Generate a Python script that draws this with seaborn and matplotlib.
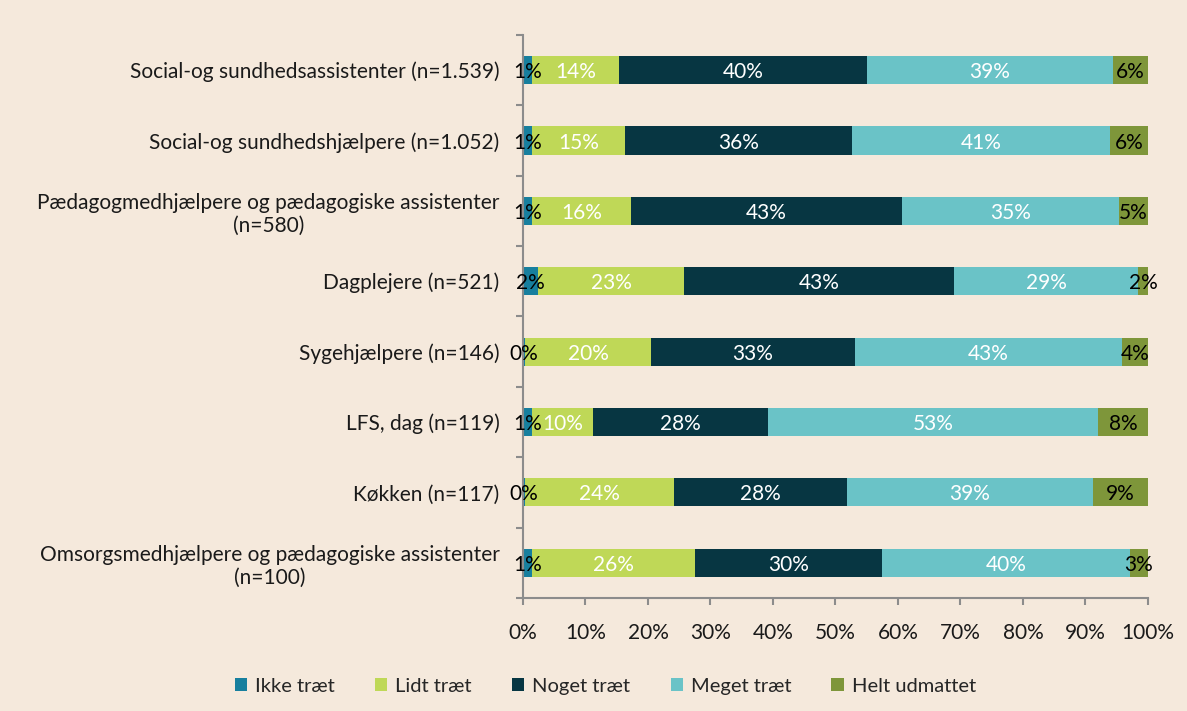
import matplotlib
matplotlib.use("Agg")
import matplotlib.pyplot as plt
import seaborn as sns
import numpy as np
import pandas as pd
from matplotlib.patches import Patch

categories = [
    "Social-og sundhedsassistenter (n=1.539)",
    "Social-og sundhedshjælpere (n=1.052)",
    "Pædagogmedhjælpere og pædagogiske assistenter\n(n=580)",
    "Dagplejere (n=521)",
    "Sygehjælpere (n=146)",
    "LFS, dag (n=119)",
    "Køkken (n=117)",
    "Omsorgsmedhjælpere og pædagogiske assistenter\n(n=100)",
]
series_names = ["Ikke træt", "Lidt træt", "Noget træt", "Meget træt", "Helt udmattet"]
ikke   = [1.4, 1.4, 1.4, 2.4, 0.3, 1.4, 0.3, 1.4]
lidt   = [14.0, 14.9, 15.9, 23.4, 20.2, 9.8, 23.9, 26.1]
noget  = [39.6, 36.3, 43.3, 43.2, 32.6, 28.0, 27.6, 29.9]
meget  = [39.4, 41.4, 34.7, 29.4, 42.7, 52.8, 39.4, 39.7]
helt   = [5.6, 6.0, 4.7, 1.6, 4.2, 8.0, 8.8, 2.9]
xticks = [0, 10, 20, 30, 40, 50, 60, 70, 80, 90, 100]

colors = ["#177F9E", "#BFD857", "#073642", "#6AC3C7", "#7E963A"]
text_colors = ["black", "white", "white", "white", "black"]
bg = "#F5E9DC"

sns.set_theme(style="white")
plt.rcParams["font.family"] = ["Lato", "DejaVu Sans"]

data = np.array([ikke, lidt, noget, meget, helt])
cum = np.cumsum(data, axis=0)

fig = plt.figure(figsize=(11.87, 7.11), dpi=100, facecolor=bg)
ax = fig.add_axes([0.4406, 0.159, 0.5265, 0.792])
ax.set_facecolor(bg)

# overlay cumulative bars, largest first
for k in range(len(series_names) - 1, -1, -1):
    df = pd.DataFrame({"cat": categories, "val": cum[k]})
    sns.barplot(data=df, x="val", y="cat", orient="h", color=colors[k],
                width=0.4, ax=ax, saturation=1, edgecolor="none", linewidth=0)

# value labels
for k in range(len(series_names)):
    for i in range(len(categories)):
        v = data[k, i]
        center = cum[k, i] - v / 2
        ax.text(center, i + 0.03, f"{int(round(v))}%", ha="center", va="center",
                fontsize=15, color=text_colors[k])

ax.set_xlim(0, 100)
ax.set_ylim(len(categories) - 0.5, -0.5)
ax.set_xticks(xticks)
ax.set_xticklabels([f"{t}%" for t in xticks])
ax.set_xlabel("")
ax.set_ylabel("")

ax.set_yticks(np.arange(len(categories)))
ax.set_yticklabels(categories)
for lab in ax.get_yticklabels():
    lab.set_multialignment("center")
    lab.set_linespacing(1.2)
ax.set_yticks(np.arange(len(categories) + 1) - 0.5, minor=True)
ax.tick_params(axis="y", which="major", length=0, pad=17, labelsize=15, colors="#1a1a1a")
ax.tick_params(axis="y", which="minor", length=5, width=1.5, color="#8C8C8C", left=True)
ax.tick_params(axis="x", which="major", length=5, width=1.5, color="#8C8C8C",
               bottom=True, pad=13, labelsize=15, labelcolor="#1a1a1a")

for s in ["top", "right"]:
    ax.spines[s].set_visible(False)
for s in ["left", "bottom"]:
    ax.spines[s].set_visible(True)
    ax.spines[s].set_color("#8C8C8C")
    ax.spines[s].set_linewidth(1.5)

handles = [Patch(facecolor=c, edgecolor="none", label=n) for c, n in zip(colors, series_names)]
fig.legend(handles=handles, loc="center", bbox_to_anchor=(0.51, 0.035), ncol=5,
           frameon=False, fontsize=14.5, handlelength=0.6, handleheight=0.6,
           handletextpad=0.4, columnspacing=2.0)

fig.savefig("out.png", dpi=100, facecolor=bg)
